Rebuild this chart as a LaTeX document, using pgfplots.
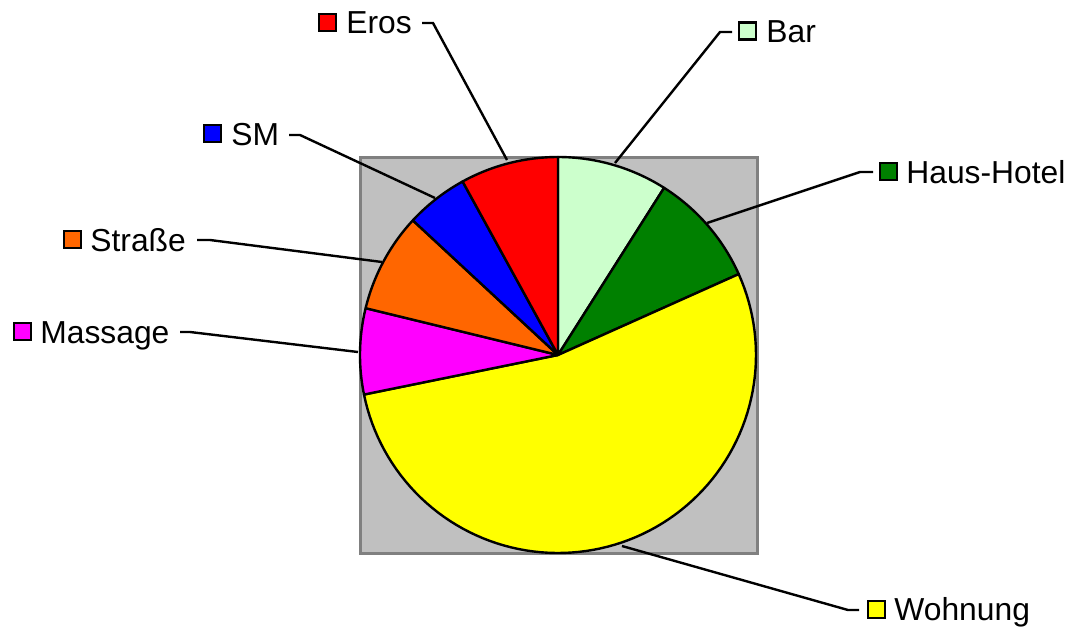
\documentclass[border=0pt]{standalone}
\usepackage{pgfplots}
\pgfplotsset{compat=1.18}
\usepackage{fontspec}
\setmainfont{Liberation Sans}
\definecolor{cBar}{HTML}{CCFFCC}
\definecolor{cHaus}{HTML}{008000}
\definecolor{cWohn}{HTML}{FFFF00}
\definecolor{cMass}{HTML}{FF00FF}
\definecolor{cStr}{HTML}{FF6600}
\definecolor{cSM}{HTML}{0000FF}
\definecolor{cEros}{HTML}{FF0000}
\definecolor{bgfill}{HTML}{C0C0C0}
\definecolor{bgdraw}{HTML}{808080}
\tikzset{lbl/.style={inner sep=0pt, anchor=base west, font=\fontsize{15.9}{18}\selectfont}}
\def\cum{0}
\newcommand\slice[2]{%
  \pgfmathsetmacro\sa{\cum}%
  \pgfmathsetmacro\sb{\cum+3.6*#1}%
  \edef\doslice{\noexpand\addplot[fill=#2, draw=black, line width=1.2pt, line join=round, domain=\sa:\sb, samples=90] ({558+198*sin(x)},{355-198*cos(x)}) -- (axis cs:558,355) -- cycle;}%
  \doslice
  \xdef\cum{\sb}}
\newcommand\legsq[3]{%
  \addplot[only marks, mark=square*, mark size=4.2pt, mark options={fill=#1, draw=black, line width=1.2pt}] coordinates {(#2,#3)};}
\begin{document}
\begin{tikzpicture}
\begin{axis}[
  name=ax,
  scale only axis, width=535pt, height=313.5pt,
  xmin=0, xmax=1070, ymin=0, ymax=627, y dir=reverse,
  hide axis, clip=false
]
\addplot[draw=none] coordinates {(0,0) (1070,627)};
% background square
\addplot[fill=bgfill, draw=bgdraw, line width=1.5pt] coordinates {(360,157) (757,157) (757,553) (360,553)} -- cycle;
% leader lines
\addplot[black, line width=1.2pt] coordinates {(422,23) (433,23) (507,160)};
\addplot[black, line width=1.2pt] coordinates {(615,163) (720,32) (732,32)};
\addplot[black, line width=1.2pt] coordinates {(707,223) (860,172) (873,172)};
\addplot[black, line width=1.2pt] coordinates {(622,546) (848,610) (859,610)};
\addplot[black, line width=1.2pt] coordinates {(180,332) (190,332) (358,352)};
\addplot[black, line width=1.2pt] coordinates {(197,240) (210,240) (382,262)};
\addplot[black, line width=1.2pt] coordinates {(289,135) (300,135) (435,198)};
% pie slices (percent), clockwise from 12 o'clock
\slice{9.0}{cBar}
\slice{9.3}{cHaus}
\slice{53.5}{cWohn}
\slice{7.0}{cMass}
\slice{8.1}{cStr}
\slice{5.1}{cSM}
\slice{8.0}{cEros}
% legend squares
\legsq{cEros}{327.5}{22.5}
\legsq{cBar}{747.5}{31}
\legsq{cHaus}{888.5}{171.5}
\legsq{cWohn}{876.5}{609.5}
\legsq{cMass}{22.5}{331.5}
\legsq{cStr}{72.5}{239.5}
\legsq{cSM}{212.5}{133.5}
% labels
\node[lbl] at (axis cs:346,33) {Eros};
\node[lbl] at (axis cs:766,42) {Bar};
\node[lbl] at (axis cs:906,183) {Haus-Hotel};
\node[lbl] at (axis cs:894,620) {Wohnung};
\node[lbl] at (axis cs:40,343) {Massage};
\node[lbl] at (axis cs:90,251) {Straße};
\node[lbl] at (axis cs:231,145) {SM};
\end{axis}
\pgfresetboundingbox
\path (ax.south west) rectangle (ax.north east);
\end{tikzpicture}
\end{document}
